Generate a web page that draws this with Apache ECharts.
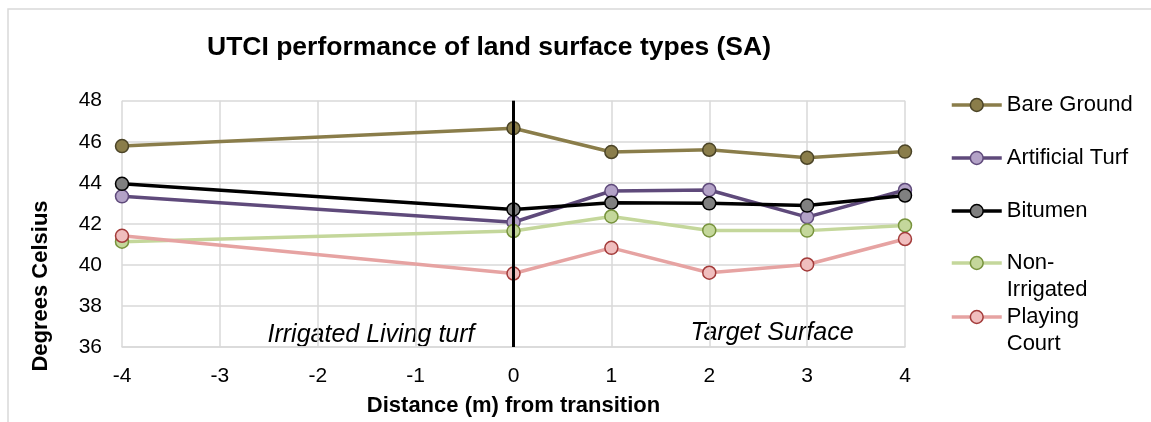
<!DOCTYPE html>
<html>
<head>
<meta charset="utf-8">
<script src="https://cdn.jsdelivr.net/npm/echarts@6/dist/echarts.min.js"></script>
<style>
html,body{margin:0;padding:0;background:#fff;}
#chart{width:1151px;height:422px;}
</style>
</head>
<body>
<div id="chart"></div>
<script>
const distances = [-4, 0, 1, 2, 3, 4];
const bareGround = [45.79, 46.66, 45.50, 45.61, 45.22, 45.52];
const artificialTurf = [43.34, 42.08, 43.60, 43.65, 42.33, 43.65];
const bitumen = [43.95, 42.70, 43.03, 43.00, 42.89, 43.38];
const nonIrrigated = [41.13, 41.65, 42.36, 41.68, 41.67, 41.92];
const playingCourt = [41.42, 39.58, 40.83, 39.62, 40.02, 41.26];
const seriesNames = ['Bare Ground', 'Artificial Turf', 'Bitumen', 'Non-\nIrrigated', 'Playing\nCourt'];
const transitionX = 0;
const yTicks = {min: 36, max: 48, step: 2};
const xTicks = {min: -4, max: 4, step: 1};

const styles = [
  {line: '#8A7D4A', fill: '#8A7D4A', border: '#4B4427'},
  {line: '#5F4A7B', fill: '#B3A2C7', border: '#5F4A7B'},
  {line: '#000000', fill: '#808080', border: '#000000'},
  {line: '#C4D79B', fill: '#C4D79B', border: '#77933C'},
  {line: '#E6A3A2', fill: '#F0BEBE', border: '#A33B3A'}
];
const allValues = [bareGround, artificialTurf, bitumen, nonIrrigated, playingCourt];
const legendCenters = [105, 158, 211, 263, 317];
const FONT = 'Liberation Sans, Arial, sans-serif';

const series = allValues.map((vals, i) => ({
  name: seriesNames[i],
  type: 'line',
  data: distances.map((d, j) => [d, vals[j]]),
  symbol: 'circle',
  symbolSize: 13,
  lineStyle: {color: styles[i].line, width: 3.5},
  itemStyle: {color: styles[i].fill, borderColor: styles[i].border, borderWidth: 1.5},
  z: 3
}));
series.push({
  name: 'transition',
  type: 'line',
  data: [],
  z: 10,
  markLine: {
    silent: true,
    symbol: 'none',
    label: {show: false},
    lineStyle: {color: '#000', width: 3, type: 'solid'},
    data: [{xAxis: transitionX}]
  }
});

const LH = 27;
const legends = seriesNames.map((n, i) => {
  const twoLine = n.indexOf('\n') >= 0;
  return {
    data: [n],
    orient: 'vertical',
    left: 950,
    padding: 0,
    top: twoLine ? legendCenters[i] - LH * 1.5 : legendCenters[i] - LH / 2,
    itemWidth: 50,
    itemHeight: 16,
    formatter: (name) => (name.indexOf('\n') >= 0 ? ' \n' + name : name),
    lineStyle: {width: 3.5},
    itemStyle: {borderWidth: 1.5},
    textStyle: {
      fontFamily: FONT,
      fontSize: 22,
      color: '#000',
      lineHeight: LH
    }
  };
});

const chart = echarts.init(document.getElementById('chart'));
chart.setOption({
  animation: false,
  backgroundColor: '#fff',
  title: {
    text: 'UTCI performance of land surface types (SA)',
    left: 202,
    top: 29,
    textStyle: {fontFamily: FONT, fontSize: 26.5, fontWeight: 'bold', color: '#000'}
  },
  legend: legends,
  grid: {left: 122, right: 246, top: 100.7, bottom: 69.3, containLabel: false},
  xAxis: {
    type: 'value',
    min: xTicks.min, max: xTicks.max, interval: xTicks.step,
    name: 'Distance (m) from transition',
    nameLocation: 'middle',
    nameGap: 48,
    nameTextStyle: {fontFamily: FONT, fontSize: 22, fontWeight: 'bold', color: '#000'},
    axisLine: {show: true, lineStyle: {color: '#d9d9d9', width: 1.5}},
    axisTick: {show: false},
    axisLabel: {fontFamily: FONT, fontSize: 21, color: '#000', margin: 19},
    splitLine: {show: true, lineStyle: {color: '#d9d9d9', width: 1.5}}
  },
  yAxis: {
    type: 'value',
    min: yTicks.min, max: yTicks.max, interval: yTicks.step,
    axisLine: {show: true, lineStyle: {color: '#d9d9d9', width: 1.5}},
    axisTick: {show: false},
    axisLabel: {fontFamily: FONT, fontSize: 21, color: '#000', margin: 20},
    splitLine: {show: true, lineStyle: {color: '#d9d9d9', width: 1.5}}
  },
  graphic: [
    {type: 'rect', shape: {x: 8, y: 9, width: 1300, height: 600}, style: {fill: 'none', stroke: '#d9d9d9', lineWidth: 1.5}, silent: true, z: -10},
    {type: 'text', x: 41, y: 286, rotation: Math.PI / 2,
      style: {text: 'Degrees Celsius', fontFamily: FONT, fontSize: 22, fontWeight: 'bold', fill: '#000', align: 'center', verticalAlign: 'middle'}},
    {type: 'text', x: 371, y: 335,
      style: {text: 'Irrigated Living turf', fontFamily: FONT, fontSize: 25, fontStyle: 'italic', fill: '#000', align: 'center', verticalAlign: 'middle'}},
    {type: 'text', x: 772, y: 333,
      style: {text: 'Target Surface', fontFamily: FONT, fontSize: 25, fontStyle: 'italic', fill: '#000', align: 'center', verticalAlign: 'middle'}}
  ],
  series: series
});
</script>
</body>
</html>
